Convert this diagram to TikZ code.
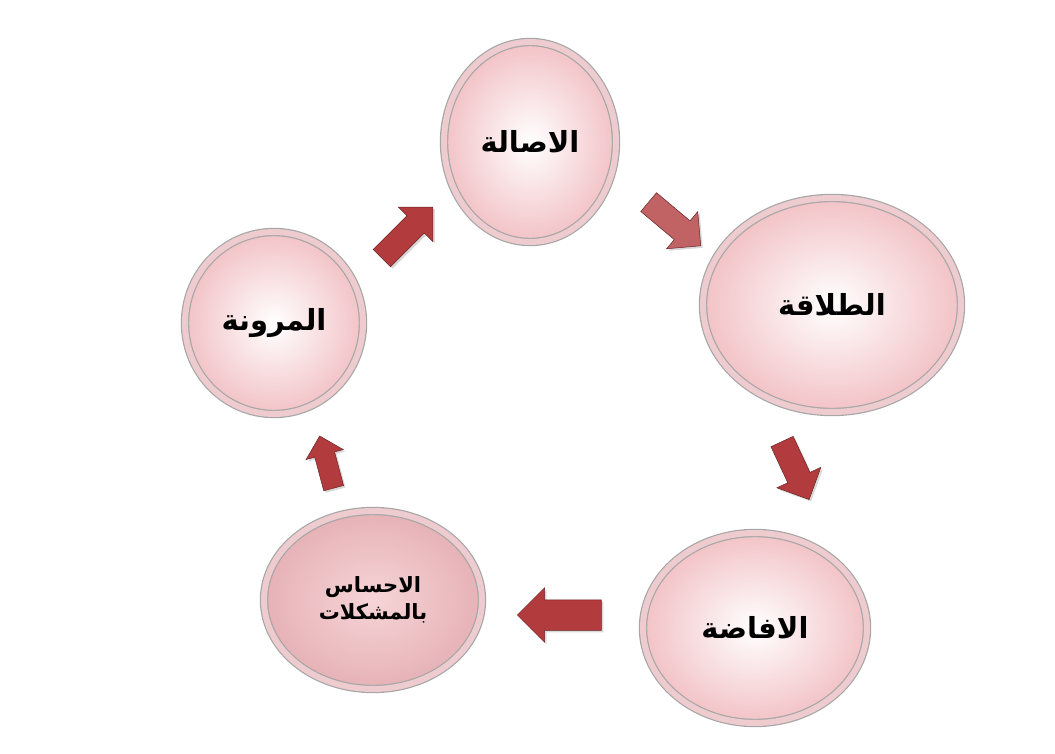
\documentclass[tikz,border=0pt]{standalone}
\usepackage{fontspec}
\newfontfamily\arabicfont[Script=Arabic]{DejaVu Sans}
\TeXXeTstate=1
\usetikzlibrary{shapes.geometric,shapes.arrows,shadows}
\definecolor{ring}{HTML}{E3A9AE}
\definecolor{inner}{HTML}{F2C2C6}
\definecolor{arr}{HTML}{B23B3D}
\begin{document}
\begin{tikzpicture}[x=1pt,y=-1pt,
  bubble/.style={ellipse,draw=gray!70,line width=1.2pt,inner color=white,outer color=inner,
    double=ring!60!white,double distance=6pt,font=\arabicfont\bfseries\fontsize{29}{34}\selectfont,align=center,
    drop shadow={shadow xshift=2pt,shadow yshift=-3pt,opacity=0.25}},
  blockarrow/.style={single arrow,fill=arr,draw=arr!60!black,line width=0.5pt,
    single arrow head extend=12pt,inner xsep=0pt,inner ysep=12pt,single arrow head indent=0pt,
    drop shadow={shadow xshift=2pt,shadow yshift=-2pt,opacity=0.3}}]
\useasboundingbox (0,0) rectangle (1055,754);
\node[bubble,minimum width=172pt,minimum height=200pt] (c1) at (530,142) {\beginR الاصالة\endR};
\node[bubble,minimum width=258pt,minimum height=214pt] (c2) at (832,305) {\beginR الطلاقة\endR};
\node[bubble,minimum width=224pt,minimum height=190pt] (c3) at (755,628) {\beginR الافاضة\endR};
\node[bubble,minimum width=218pt,minimum height=178pt,font=\arabicfont\bfseries\fontsize{21}{27}\selectfont,inner color=inner!70,outer color=ring!90] (c4) at (373,600) {\beginR الاحساس\endR\\\beginR بالمشكلات\endR};
\node[bubble,minimum width=178pt,minimum height=182pt] (c5) at (274,323) {\beginR المرونة\endR};
\node[blockarrow,minimum height=72pt,rotate=45] (a1) at (403,237) {};
\node[blockarrow,minimum height=68pt,rotate=-40,fill=arr!80!white] (a2) at (670,220) {};
\node[blockarrow,minimum height=64pt,rotate=-65] (a3) at (793,465) {};
\node[blockarrow,minimum height=84pt,inner ysep=15pt,rotate=180] (a4) at (567,615) {};
\node[blockarrow,minimum height=54pt,inner ysep=10pt,single arrow head extend=9pt,rotate=105] (a5) at (328,467) {};
\end{tikzpicture}
\end{document}
